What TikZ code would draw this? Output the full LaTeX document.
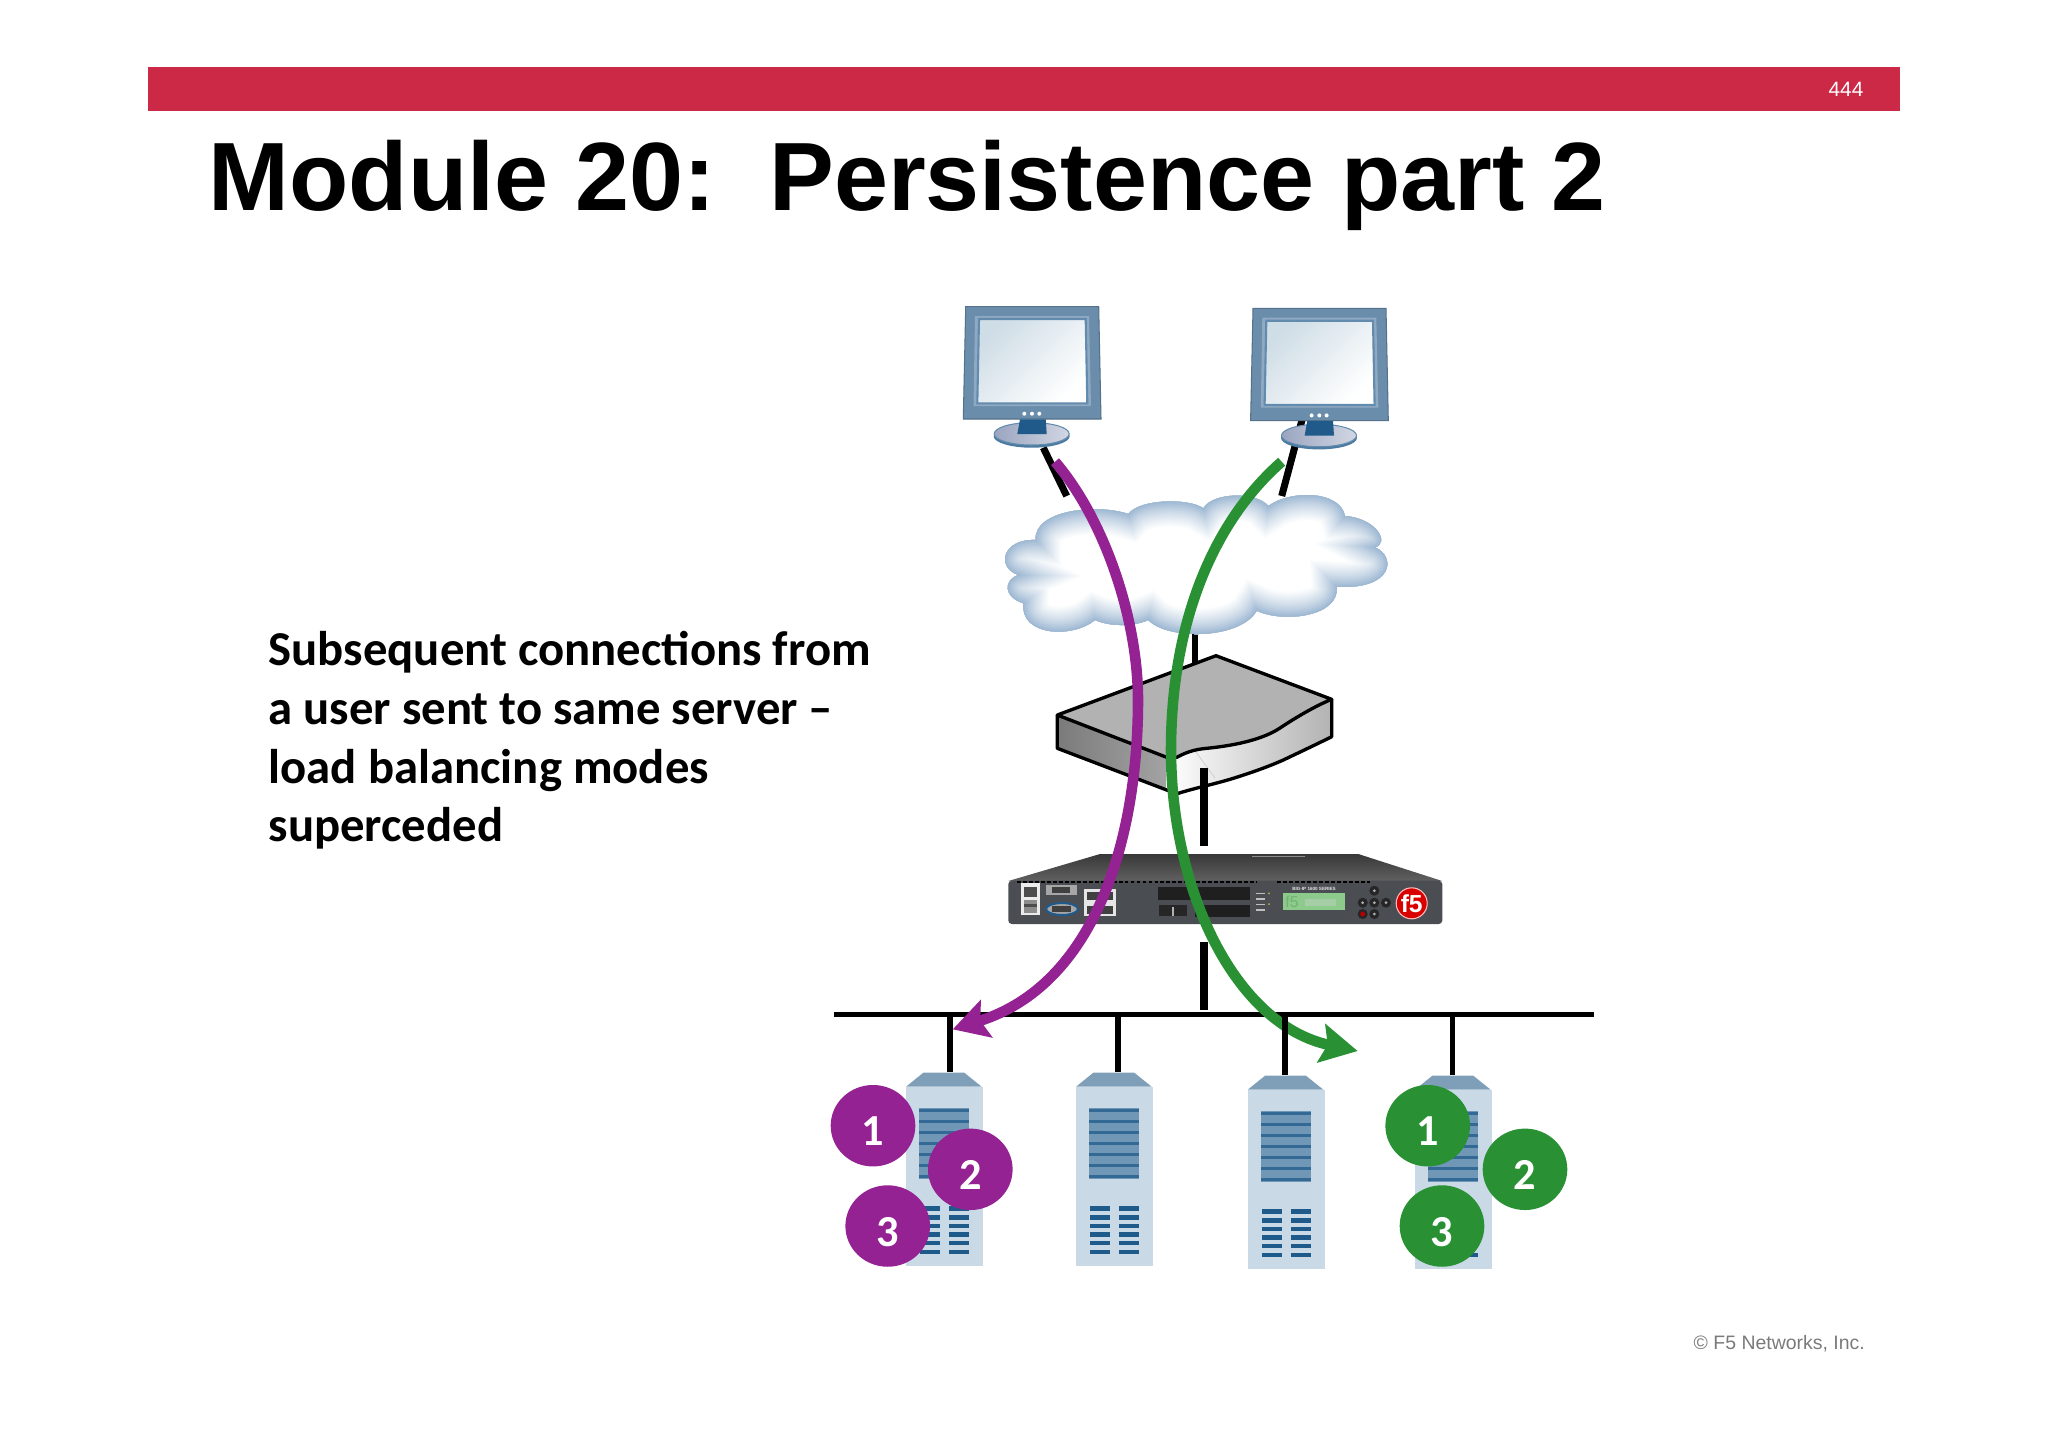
\documentclass[tikz,border=0pt]{standalone}
\usepackage{fontspec}
\setmainfont{Liberation Sans}
\newfontfamily\bodyfont{Carlito}
\usetikzlibrary{arrows.meta,shapes.geometric}
\definecolor{barred}{HTML}{CC2946}
\definecolor{flowpurple}{HTML}{952293}
\definecolor{flowgreen}{HTML}{299134}
\definecolor{cloudblue}{HTML}{8DACCB}
\definecolor{monframe}{HTML}{6B8DAC}
\definecolor{monbevel}{HTML}{8FA9C2}
\definecolor{mondark}{HTML}{1F5A8A}
\definecolor{monbase}{HTML}{9AA5C0}
\definecolor{monglass}{HTML}{CFDDE6}
\definecolor{srvbody}{HTML}{C9DAE6}
\definecolor{srvroof}{HTML}{7F9FB8}
\definecolor{srvpanel}{HTML}{7097B5}
\definecolor{srvdark}{HTML}{1E5B8B}
\definecolor{rackgrey}{HTML}{4A4D52}
\tikzset{
	linkthick/.style={line width=2pt},
	linkthin/.style={line width=1.6pt},
	flowpurpleline/.style={line width=3pt,flowpurple,-{Stealth[length=10pt,width=11pt,inset=1.8pt]}},
	flowgreenline/.style={line width=3pt,flowgreen,-{Stealth[length=10.5pt,width=11pt,inset=1.8pt]}},
	stepdot/.style={ellipse,inner sep=0pt,minimum width=0.846cm,minimum height=0.814cm,text=white,
		font=\bodyfont\bfseries\fontsize{12.6}{14}\selectfont,text height=0.40cm,text depth=0pt},
	purpledot/.style={stepdot,fill=flowpurple},
	greendot/.style={stepdot,fill=flowgreen},
	boxedge/.style={line width=0.95pt,line join=round}
}
\def\monitor(#1,#2){
	\begin{scope}[shift={(#1,#2)}]
		\fill[monframe,draw=monframe!80!black,line width=0.3pt] (965.7,306.7) -- (1098.7,306.7) -- (1101,419) -- (963.3,419) -- cycle;
		\fill[monbevel] (975,316) -- (1089,316) -- (1091,406) -- (973.5,406) -- cycle;
		\shade[draw=mondark!70!white,line width=0.6pt,left color=monglass,right color=white,shading angle=45] (979,319) -- (1085.7,319) -- (1087.3,403.3) -- (977.3,403.3) -- cycle;
		\foreach \xx in {1024.3,1032,1039.3} {
			\fill[white] (\xx,413.7) circle (2);
		}
		\fill[mondark!80!white] (1031.7,436.2) ellipse (38 and 11.5);
		\shade[draw=mondark!70!white,line width=0.3pt,left color=monbase,right color=monbase!45!white] (1031.7,433.8) ellipse (37.5 and 11.2);
		\fill[mondark] (1020,419.3) -- (1045.7,419.3) -- (1046.7,434) -- (1017.3,434) -- cycle;
	\end{scope}
}
\def\serverbox(#1,#2){
	\begin{scope}[shift={(#1,#2)}]
		\fill[srvroof] (906,1086.7) -- (923.3,1072.7) -- (964.3,1072.7) -- (981.7,1086.7) -- cycle;
		\fill[srvbody] (906,1086.7) rectangle (983,1265.7);
		\fill[srvpanel] (919.3,1108.3) rectangle (969.3,1179);
		\foreach \yy in {1110.5,1121,1132,1143,1154,1165.5,1176.5} {
			\fill[srvdark!75!srvpanel] (919.3,\yy-1.5) rectangle (969.3,\yy+1.5);
		}
		\foreach \yy in {1208.5,1217.5,1226,1234.5,1243,1252} {
			\fill[srvdark] (920,\yy-2.2) rectangle (940,\yy+2.2);
			\fill[srvdark] (949,\yy-2.2) rectangle (969,\yy+2.2);
		}
	\end{scope}
}
\def\cloudpath{(1018.3,575) .. controls (995,566.7) and (1003.3,538.3) .. (1035.7,540)
	.. controls (1033.3,510) and (1096.7,503.3) .. (1128.3,514)
	.. controls (1140,498.3) and (1190,498.3) .. (1203.3,508.3)
	.. controls (1213.3,491.7) and (1256.7,491.7) .. (1268.3,506)
	.. controls (1290,490) and (1340,490) .. (1345,516)
	.. controls (1376.7,518.3) and (1390,543.3) .. (1375,547.3)
	.. controls (1396.7,556.7) and (1393.3,590) .. (1336.7,586.7)
	.. controls (1340,616.7) and (1283.3,623.3) .. (1256.7,610.7)
	.. controls (1240,640) and (1166.7,640) .. (1148.3,620)
	.. controls (1133.3,626.7) and (1110,626.7) .. (1095,620)
	.. controls (1073.3,638.3) and (1020,636.7) .. (1023.3,603.3)
	.. controls (1003.3,596.7) and (1003.3,580) .. (1018.3,575) -- cycle}

\begin{document}
\begin{tikzpicture}[x=0.01cm,y=-0.01cm]
	\useasboundingbox (0,0) rectangle (2048,1447);
	%%%%% HEADER %%%%%
	\fill[barred] (148,67) rectangle (1900,111);
	\node[anchor=base east,inner sep=0pt,text=white,font=\fontsize{5.9}{7}\selectfont] (pagenum) at (1864,96) {444};
	\node[anchor=base west,inner sep=0pt,font=\bfseries\fontsize{27.6}{30}\selectfont] (title) at (208,210) {Module 20:\ \ Persistence part 2};
	\node[anchor=base west,inner sep=0pt,text=black!52,font=\fontsize{5.53}{7}\selectfont] (copyright) at (1693,1349) {© F5 Networks, Inc.};
	\node[anchor=north west,inner sep=0pt,align=left,font=\bodyfont\bfseries\fontsize{13.85}{16.65}\selectfont] (caption) at (268,631) {Subsequent connections from\\a user sent to same server –\\load balancing modes\\superceded};
	
	%%%%% LINKS %%%%%
	\coordinate (pcA) at (1043.3,447.7);
	\coordinate (netA) at (1066.7,496);
	\coordinate (pcB) at (1306,405);
	\coordinate (netB) at (1281.7,496);
	\coordinate (netC) at (1195,633);
	\coordinate (boxC) at (1195,670);
	\coordinate (boxD) at (1204,768);
	\coordinate (rackD) at (1204,845.7);
	\coordinate (rackE) at (1204,942.3);
	\coordinate (busE) at (1204,1010);
	\coordinate (busL) at (834,1014.5);
	\coordinate (busR) at (1593.7,1014.5);
	\draw[linkthick] (pcA) -- (netA);
	\draw[linkthick] (pcB) -- (netB);
	\draw[linkthin] (netC) -- (boxC);
	
	\monitor(0,0)
	\monitor(287.3,1.7)
	\serverbox(0,0)
	\serverbox(170,0)
	\serverbox(341.7,3)
	\serverbox(509,3)
	
	%%%%% CLOUD %%%%%
	\begin{scope}
		\clip \cloudpath;
		\fill[white] \cloudpath;
		\foreach \wd/\tint in {50/5,46/10,42/16,38/22,34/28,30/34,26/40,22/47,18/54,14/62,10/70,6/78,2/85} {
			\draw[cloudblue!\tint!white,line width=\wd*0.2845pt] \cloudpath;
		}
	\end{scope}
	
	%%%%% LOAD BALANCER BOX %%%%%
	\shade[left color=black!52,right color=black!36] (1057.3,715) -- (1166.7,757.3) -- (1166.7,790) -- (1057.3,748.3) -- cycle;
	\shade[left color=white,right color=black!30] (1166.7,757.3) -- (1176.7,757.3) .. controls (1190,750) and (1200,749) .. (1206.7,748.3) .. controls (1240,745) and (1265,738) .. (1280,728) .. controls (1295,718) and (1315,706) .. (1331.7,699.3) -- (1331.7,736.7) .. controls (1315,745) and (1300,752) .. (1283.3,760) .. controls (1265,768) and (1250,773) .. (1233.3,778.3) .. controls (1215,784) and (1195,788) .. (1178.3,793.3) -- (1166.7,790) -- cycle;
	\fill[black!30] (1057.3,715) -- (1216,655.7) -- (1331.7,699.3) .. controls (1315,706) and (1295,718) .. (1280,728) .. controls (1265,738) and (1240,745) .. (1206.7,748.3) .. controls (1200,749) and (1190,750) .. (1176.7,757.3) -- (1166.7,757.3) -- cycle;
	\draw[boxedge] (1166.7,757.3) -- (1057.3,715) -- (1216,655.7) -- (1331.7,699.3) .. controls (1315,706) and (1295,718) .. (1280,728) .. controls (1265,738) and (1240,745) .. (1206.7,748.3) .. controls (1200,749) and (1190,750) .. (1176.7,757.3) -- cycle;
	\draw[boxedge] (1057.3,715) -- (1057.3,748.3) -- (1166.7,790) -- (1178.3,793.3) .. controls (1195,788) and (1215,784) .. (1233.3,778.3) .. controls (1250,773) and (1265,768) .. (1283.3,760) .. controls (1300,752) and (1315,745) .. (1331.7,736.7) -- (1331.7,699.3);
	\draw[black!20,line width=0.2pt] (1196,752) -- (1215,778);
	\draw[linkthick] (boxD) -- (rackD);
	
	%%%%% RACK UNIT %%%%%
	\shade[top color=black!78,bottom color=black!62] (1008.3,881) -- (1100,854) -- (1358.3,854) -- (1442.3,881) -- cycle;
	\fill[black!45] (1252,856) rectangle (1305,857);
	\fill[rackgrey,rounded corners=1pt] (1008.3,880.7) rectangle (1442.3,924);
	\draw[black,line width=0.5pt,dash pattern=on 1.1pt off 0.6pt] (1017,882) -- (1257,882);
	\draw[black,line width=0.5pt,dash pattern=on 1.1pt off 0.6pt] (1277,882) -- (1370,882);
	\fill[black!8] (1020.7,882.7) rectangle (1040,915);
	\fill[black!70] (1024,887) rectangle (1037,897);
	\fill[black!45] (1024,900) rectangle (1037,913);
	\fill[black!70] (1024,904) rectangle (1037,907);
	\fill[black!35] (1045.7,885) rectangle (1076.7,895);
	\fill[black!75] (1052,887) rectangle (1070,893);
	\draw[mondark,line width=0.6pt,fill=black!35] (1062,909) ellipse (16 and 6);
	\fill[black!75] (1052,906) rectangle (1071,912);
	\fill[black!10] (1084,889.3) rectangle (1116,916);
	\fill[black!75] (1087,892) rectangle (1113,900);
	\fill[black!75] (1087,905.5) rectangle (1113,914);
	\fill[black!88] (1157.7,887.3) rectangle (1250,900);
	\fill[black!88] (1195,905) rectangle (1250,916.7);
	\fill[black!85] (1159,905) rectangle (1187.3,916);
	\fill[black!30] (1172,907) rectangle (1174,916);
	\foreach \yy in {893.3,899,904.3,910} {
		\fill[black!25] (1256,\yy-0.6) rectangle (1265,\yy+0.6);
	}
	\fill[yellow!70!black] (1269,893.3) circle (1);
	\fill[yellow!70!black] (1269,904) circle (1);
	\node[inner sep=0pt,text=black!10,font=\bfseries\fontsize{1.3}{2}\selectfont] (series) at (1314,889) {BIG-IP 1600 SERIES};
	\fill[green!55!black!45!white] (1283.3,893.3) rectangle (1345,910);
	\node[inner sep=0pt,text=green!45!black!55!white,font=\fontsize{4.5}{5}\selectfont] (lcdlogo) at (1292,902) {f5};
	\fill[green!45!black!35!white] (1305,899) rectangle (1336,906);
	\foreach \xx/\yy in {1374.3/890.7,1362.7/902.7,1374.3/902.7,1386/902.7,1374.3/914} {
		\fill[black!85] (\xx,\yy) circle (5);
		\fill[black!30] (\xx,\yy) circle (1.5);
	}
	\fill[black!85] (1362.7,914) circle (5);
	\fill[red!70!black] (1362.7,914) circle (2.5);
	\node[circle,inner sep=0pt,minimum size=0.31cm,fill=red!85!black,draw=white!75!red,line width=0.3pt,text=white,font=\bfseries\fontsize{7}{8}\selectfont] (logo) at (1411.7,903.3) {f5};
	\draw[linkthick] (rackE) -- (busE);
	
	%%%%% BUS %%%%%
	\coordinate (dropA) at (950,1014.5);
	\coordinate (dropB) at (1118,1014.5);
	\coordinate (dropC) at (1285,1014.5);
	\coordinate (dropD) at (1452.3,1014.5);
	\coordinate (srvA) at (950,1072);
	\coordinate (srvB) at (1118,1072);
	\coordinate (srvC) at (1285,1075);
	\coordinate (srvD) at (1452.3,1075);
	\draw[linkthin] (busL) -- (busR);
	
	%%%%% FLOWS %%%%%
	\coordinate (flowAstart) at (1055,461.7);
	\coordinate (flowAmid) at (1138,700);
	\coordinate (flowAend) at (952.7,1029.3);
	\coordinate (flowBstart) at (1281.7,461.7);
	\coordinate (flowBmid) at (1171,750);
	\coordinate (flowBend) at (1357.7,1051);
	\draw[flowgreenline] (flowBstart) .. controls (1215,520) and (1171,620) .. (flowBmid) .. controls (1171,890) and (1235,1025) .. (flowBend);
	\foreach \src/\dst in {dropA/srvA,dropB/srvB,dropC/srvC,dropD/srvD} {
		\draw[linkthin] (\src) -- (\dst);
	}
	\draw[flowpurpleline] (flowAstart) .. controls (1105,520) and (1138,620) .. (flowAmid) .. controls (1138,840) and (1095,985) .. (flowAend);
	
	%%%%% STEPS %%%%%
	\node[purpledot] (purpleA) at (873,1125.7) {1};
	\node[purpledot] (purpleB) at (970.3,1169.3) {2};
	\node[purpledot] (purpleC) at (887.7,1226) {3};
	\node[greendot] (greenA) at (1427.7,1125.7) {1};
	\node[greendot] (greenB) at (1525,1169.3) {2};
	\node[greendot] (greenC) at (1442,1226) {3};
\end{tikzpicture}
\end{document}
